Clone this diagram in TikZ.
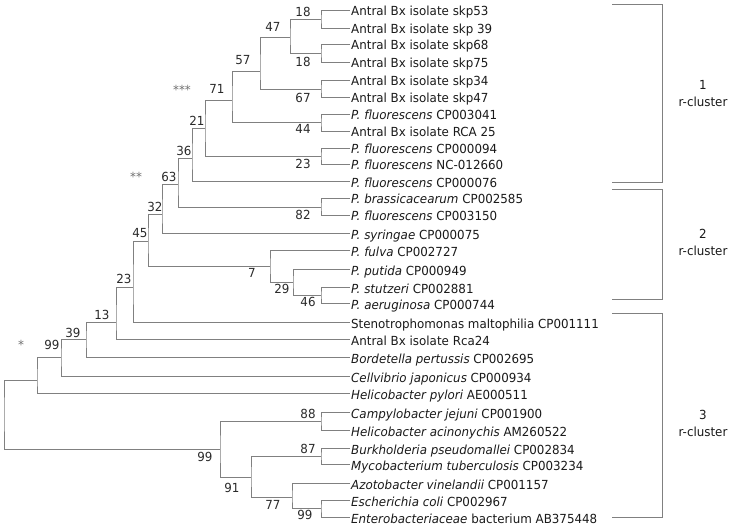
\documentclass[tikz,border=0pt]{standalone}
\usepackage{fontspec}
\setmainfont[FakeStretch=0.95]{DejaVu Sans}
\definecolor{linegray}{HTML}{808080}
\definecolor{txt}{HTML}{1A1A1A}
\definecolor{numc}{HTML}{2A2A2A}
\definecolor{astc}{HTML}{707070}
\begin{document}
\begin{tikzpicture}[x=1pt,y=-1pt,
  every node/.style={font=\fontsize{12.5}{15}\selectfont},
  br/.style={draw=linegray, line width=0.9pt},
  leaf/.style={anchor=west, inner xsep=1pt, inner ysep=0pt, text height=12pt, text depth=0pt, text=txt},
  bs/.style={text=numc, inner sep=0pt},
  ast/.style={text=astc, inner sep=0pt},
  clab/.style={text=txt, align=center, inner sep=0pt}]
\useasboundingbox (0,0) rectangle (734,532);
% leaves
\node[leaf] (L0) at (350,10) {Antral Bx isolate skp53};
\node[leaf] (L1) at (350,28) {Antral Bx isolate skp 39};
\node[leaf] (L2) at (350,44) {Antral Bx isolate skp68};
\node[leaf] (L3) at (350,62) {Antral Bx isolate skp75};
\node[leaf] (L4) at (350,80) {Antral Bx isolate skp34};
\node[leaf] (L5) at (350,97) {Antral Bx isolate skp47};
\node[leaf] (L6) at (350,114) {\textit{P. fluorescens} CP003041};
\node[leaf] (L7) at (350,131) {Antral Bx isolate RCA 25};
\node[leaf] (L8) at (350,148) {\textit{P. fluorescens} CP000094};
\node[leaf] (L9) at (350,164) {\textit{P. fluorescens} NC-012660};
\node[leaf] (L10) at (350,181) {\textit{P. fluorescens} CP000076};
\node[leaf] (L11) at (350,198) {\textit{P. brassicacearum} CP002585};
\node[leaf] (L12) at (350,215) {\textit{P. fluorescens} CP003150};
\node[leaf] (L13) at (350,233) {\textit{P. syringae} CP000075};
\node[leaf] (L14) at (350,250) {\textit{P. fulva} CP002727};
\node[leaf] (L15) at (350,269) {\textit{P. putida} CP000949};
\node[leaf] (L16) at (350,287) {\textit{P. stutzeri} CP002881};
\node[leaf] (L17) at (350,303) {\textit{P. aeruginosa} CP000744};
\node[leaf] (L18) at (350,322) {Stenotrophomonas maltophilia CP001111};
\node[leaf] (L19) at (350,339) {Antral Bx isolate Rca24};
\node[leaf] (L20) at (350,357) {\textit{Bordetella pertussis} CP002695};
\node[leaf] (L21) at (350,376) {\textit{Cellvibrio japonicus} CP000934};
\node[leaf] (L22) at (350,393) {\textit{Helicobacter pylori} AE000511};
\node[leaf] (L23) at (350,412) {\textit{Campylobacter jejuni} CP001900};
\node[leaf] (L24) at (350,430) {\textit{Helicobacter acinonychis} AM260522};
\node[leaf] (L25) at (350,448) {\textit{Burkholderia pseudomallei} CP002834};
\node[leaf] (L26) at (350,464) {\textit{Mycobacterium tuberculosis} CP003234};
\node[leaf] (L27) at (350,483) {\textit{Azotobacter vinelandii} CP001157};
\node[leaf] (L28) at (350,500) {\textit{Escherichia coli} CP002967};
\node[leaf] (L29) at (350,517) {\textit{Enterobacteriaceae} bacterium AB375448};
% internal nodes
\coordinate (n18a) at (321,19);
\coordinate (n18b) at (321,53);
\coordinate (n47) at (290,37);
\coordinate (n67) at (321,89);
\coordinate (n57) at (260,71);
\coordinate (n44) at (321,122);
\coordinate (n71) at (232,100);
\coordinate (n23a) at (321,156);
\coordinate (n21) at (205,128);
\coordinate (n36) at (192,158);
\coordinate (n82) at (321,207);
\coordinate (n63) at (178,184);
\coordinate (n32) at (162,214);
\coordinate (n46) at (321,295);
\coordinate (n29) at (293,282);
\coordinate (n7) at (270,266);
\coordinate (n45) at (148,241);
\coordinate (n23b) at (133,287);
\coordinate (n13) at (116,322);
\coordinate (n39) at (86,339);
\coordinate (n99a) at (61,357);
\coordinate (nX) at (37,380);
\coordinate (n88) at (321,421);
\coordinate (n87) at (321,456);
\coordinate (n99c) at (321,508);
\coordinate (n77) at (292,497);
\coordinate (n91) at (251,477);
\coordinate (n99b) at (220,449);
\coordinate (root) at (4,414);
% branches
\draw[br] (L0.west) -| (n18a) |- (L1.west);
\draw[br] (L2.west) -| (n18b) |- (L3.west);
\draw[br] (n18a) -| (n47) |- (n18b);
\draw[br] (L4.west) -| (n67) |- (L5.west);
\draw[br] (n47) -| (n57) |- (n67);
\draw[br] (L6.west) -| (n44) |- (L7.west);
\draw[br] (n57) -| (n71) |- (n44);
\draw[br] (L8.west) -| (n23a) |- (L9.west);
\draw[br] (n71) -| (n21) |- (n23a);
\draw[br] (n21) -| (n36) |- (L10.west);
\draw[br] (L11.west) -| (n82) |- (L12.west);
\draw[br] (n36) -| (n63) |- (n82);
\draw[br] (n63) -| (n32) |- (L13.west);
\draw[br] (L16.west) -| (n46) |- (L17.west);
\draw[br] (L15.west) -| (n29) |- (n46);
\draw[br] (L14.west) -| (n7) |- (n29);
\draw[br] (n32) -| (n45) |- (n7);
\draw[br] (n45) -| (n23b) |- (L18.west);
\draw[br] (n23b) -| (n13) |- (L19.west);
\draw[br] (n13) -| (n39) |- (L20.west);
\draw[br] (n39) -| (n99a) |- (L21.west);
\draw[br] (n99a) -| (nX) |- (L22.west);
\draw[br] (L23.west) -| (n88) |- (L24.west);
\draw[br] (L25.west) -| (n87) |- (L26.west);
\draw[br] (L28.west) -| (n99c) |- (L29.west);
\draw[br] (L27.west) -| (n77) |- (n99c);
\draw[br] (n87) -| (n91) |- (n77);
\draw[br] (n88) -| (n99b) |- (n91);
\draw[br] (nX) -| (root) |- (n99b);
% support values
\node[bs] (s18a) at (303,12) {18};
\node[bs] (s18b) at (303,62) {18};
\node[bs] (s47) at (273,27) {47};
\node[bs] (s57) at (243,60) {57};
\node[bs] (s67) at (303,98) {67};
\node[ast] (a3) at (182,90) {***};
\node[bs] (s71) at (217,89) {71};
\node[bs] (s44) at (303,129) {44};
\node[bs] (s23a) at (303,164) {23};
\node[bs] (s21) at (197,121) {21};
\node[bs] (s36) at (184,151) {36};
\node[ast] (a2) at (136,177) {**};
\node[bs] (s63) at (169,177) {63};
\node[bs] (s32) at (155,207) {32};
\node[bs] (s82) at (303,215) {82};
\node[bs] (s45) at (140,233) {45};
\node[bs] (s7) at (252,273) {7};
\node[bs] (s29) at (282,289) {29};
\node[bs] (s46) at (308,302) {46};
\node[bs] (s23b) at (124,279) {23};
\node[bs] (s13) at (102,315) {13};
\node[bs] (s39) at (73,333) {39};
\node[bs] (s99a) at (52,345) {99};
\node[ast] (a1) at (21,345) {*};
\node[bs] (s88) at (308,414) {88};
\node[bs] (s99b) at (205,457) {99};
\node[bs] (s87) at (308,449) {87};
\node[bs] (s91) at (232,488) {91};
\node[bs] (s77) at (273,505) {77};
\node[bs] (s99c) at (305,515) {99};
% cluster brackets
\coordinate (c1t) at (612,4);
\coordinate (c1b) at (612,182);
\coordinate (c2t) at (612,189);
\coordinate (c2b) at (612,299);
\coordinate (c3t) at (612,313);
\coordinate (c3b) at (612,517);
\draw[br] (c1t) -- ++(50,0) |- (c1b);
\draw[br] (c2t) -- ++(50,0) |- (c2b);
\draw[br] (c3t) -- ++(50,0) |- (c3b);
\node[clab] (k1) at (703,94) {1\\[2pt]r-cluster};
\node[clab] (k2) at (703,242) {2\\[2pt]r-cluster};
\node[clab] (k3) at (703,423) {3\\[2pt]r-cluster};
\end{tikzpicture}
\end{document}
